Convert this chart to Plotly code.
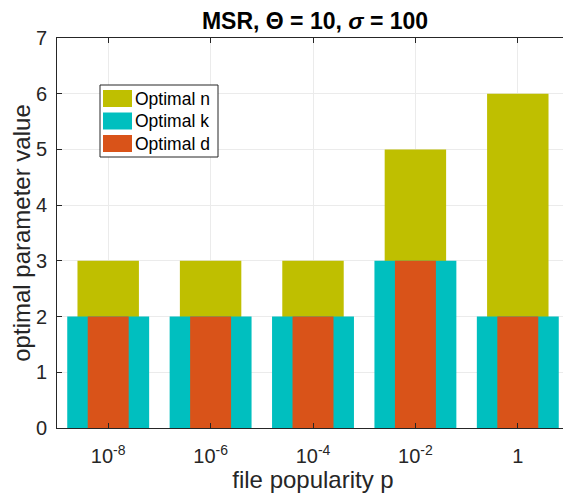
import plotly.graph_objects as go

categories = [1, 2, 3, 4, 5]
tick_labels = ["10<sup>-8</sup>", "10<sup>-6</sup>", "10<sup>-4</sup>", "10<sup>-2</sup>", "1"]
optimal_n = [3, 3, 3, 5, 6]
optimal_k = [2, 2, 2, 3, 2]
optimal_d = [2, 2, 2, 3, 2]
series_names = ["Optimal n", "Optimal k", "Optimal d"]
colors = ["#BFBF00", "#00BFBF", "#D95319"]
widths = [0.6, 0.8, 0.4]

FONT = "Liberation Sans, Arial, Helvetica, sans-serif"
INK = "#262626"

# page body has an 8px margin; work in screenshot pixels and offset
OFF = 8
W, H = 571 - OFF, 493 - OFF
# plot box in screenshot pixels
X0, X1, Y0, Y1 = 57, 569, 38, 428
L, R, T, B = X0 - OFF, (W + OFF) - X1, Y0 - OFF, (H + OFF) - Y1
pw, ph = X1 - X0, Y1 - Y0
def px(x): return (x - X0) / pw
def py(y): return (Y1 - y) / ph

fig = go.Figure()
for vals, name, col, w in zip([optimal_n, optimal_k, optimal_d], series_names, colors, widths):
    fig.add_trace(go.Bar(x=categories, y=vals, name=name, width=w,
                         marker=dict(color=col, line=dict(width=0)),
                         showlegend=False))

# custom legend (MATLAB style, large swatches)
fig.add_shape(type="rect", xref="paper", yref="paper",
              x0=px(100), x1=px(218), y0=py(157), y1=py(85),
              line=dict(color=INK, width=1), fillcolor="white", layer="above")
for i, (name, col) in enumerate(zip(series_names, colors)):
    yc = 98.5 + i * 22.5
    fig.add_shape(type="rect", xref="paper", yref="paper",
                  x0=px(103), x1=px(132), y0=py(yc + 8.5), y1=py(yc - 8.5),
                  line=dict(width=0), fillcolor=col, layer="above")
    fig.add_annotation(x=px(133), y=py(yc), xref="paper", yref="paper",
                       text=name, showarrow=False, xanchor="left", yanchor="middle",
                       font=dict(family=FONT, size=17.5, color="black"))

fig.update_layout(
    width=W, height=H,
    margin=dict(l=L, r=R, t=T, b=B),
    paper_bgcolor="white", plot_bgcolor="white",
    barmode="overlay",
    font=dict(family=FONT, color=INK),
    title=dict(text="<b>MSR, Θ = 10, <i>σ</i> = 100</b>", x=(315 - OFF) / W, xanchor="center",
               y=1 - (21 - OFF) / H, yanchor="middle",
               font=dict(family=FONT, size=23, color="black")),
)
fig.update_xaxes(range=[0.5, 5.5], tickvals=categories, ticktext=tick_labels,
                 showgrid=True, gridcolor="#EBEBEB", gridwidth=1,
                 showline=True, linecolor=INK, linewidth=1, mirror="ticks",
                 ticks="inside", ticklen=5, tickcolor=INK,
                 tickfont=dict(family=FONT, size=20, color=INK),
                 ticklabelstandoff=10,
                 title=dict(text="file popularity p", standoff=2,
                            font=dict(family=FONT, size=24, color=INK)),
                 automargin=False, zeroline=False)
fig.update_yaxes(range=[0, 7], dtick=1, tick0=0,
                 showgrid=True, gridcolor="#EBEBEB", gridwidth=1,
                 showline=True, linecolor=INK, linewidth=1, mirror="ticks",
                 ticks="inside", ticklen=5, tickcolor=INK,
                 tickfont=dict(family=FONT, size=20, color=INK),
                 ticklabelstandoff=5,
                 title=dict(text="optimal parameter value", standoff=8,
                            font=dict(family=FONT, size=24, color=INK)),
                 automargin=False, zeroline=False)

fig.write_html("out.html")
